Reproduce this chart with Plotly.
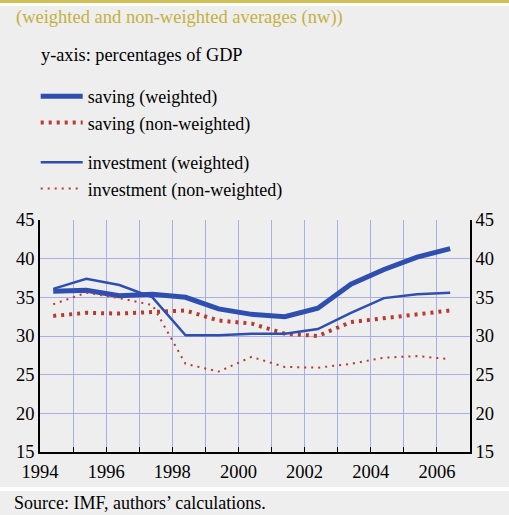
import plotly.graph_objects as go

# annual values, percentages of GDP
years = list(range(1994, 2007))
saving_w = [35.8, 35.9, 35.2, 35.4, 35.0, 33.5, 32.8, 32.5, 33.6, 36.7, 38.6, 40.2, 41.3]
saving_nw = [32.6, 33.0, 32.9, 33.1, 33.3, 32.0, 31.6, 30.3, 30.0, 31.8, 32.3, 32.7, 33.3]
invest_w = [36.1, 37.4, 36.6, 35.0, 30.1, 30.1, 30.3, 30.3, 30.9, 33.0, 34.9, 35.4, 35.6]
invest_nw = [34.1, 35.6, 34.9, 34.0, 26.4, 25.4, 27.3, 26.0, 25.9, 26.4, 27.2, 27.4, 27.0]

tick_years = list(range(1994, 2008))
tick_text = [str(y) if y % 2 == 0 else "" for y in tick_years]

BLUE = "#2f4fae"
RED = "#b73a2e"
GOLD = "#c4b13c"
BAR = "#cfbd55"
BG = "#eeeeee"
GRID = "#a9aee6"
FONT = "Times New Roman, Liberation Serif, serif"

# points sit inside each year
xs = [y + 0.4 for y in years]

fig = go.Figure()
fig.add_trace(go.Scatter(x=xs, y=saving_w, mode="lines", name="saving (weighted)",
                         line=dict(color=BLUE, width=5), legend="legend"))
fig.add_trace(go.Scatter(x=xs, y=saving_nw, mode="lines", name="saving (non-weighted)",
                         line=dict(color=RED, width=4, dash="3px,5px"), legend="legend"))
fig.add_trace(go.Scatter(x=xs, y=invest_w, mode="lines", name="investment (weighted)",
                         line=dict(color=BLUE, width=2.5), legend="legend2"))
fig.add_trace(go.Scatter(x=xs, y=invest_nw, mode="lines", name="investment (non-weighted)",
                         line=dict(color=RED, width=2, dash="2px,5px"), legend="legend2"))
# right-hand axis copy
fig.add_trace(go.Scatter(x=[None], y=[None], yaxis="y2", showlegend=False, hoverinfo="skip"))

legend_style = dict(x=-0.01, xanchor="left", yanchor="top", bgcolor="rgba(0,0,0,0)",
                    itemwidth=42, font=dict(size=18, family=FONT))

fig.update_layout(
    width=509, height=515,
    margin=dict(l=40, r=39, t=220, b=63),
    paper_bgcolor=BG, plot_bgcolor=BG,
    font=dict(family=FONT, size=18, color="black"),
    xaxis=dict(range=[1994, 2007], tickvals=tick_years, ticktext=tick_text,
               showgrid=True, gridcolor=GRID, gridwidth=1,
               showline=True, linecolor="black", linewidth=1.5,
               ticks="inside", ticklen=5, tickcolor="black",
               tickfont=dict(size=18.5), ticklabelstandoff=2, zeroline=False),
    yaxis=dict(range=[15, 45], dtick=5, showgrid=True, gridcolor=GRID,
               showline=True, linecolor="black", linewidth=1.5,
               tickfont=dict(size=18.5), zeroline=False, ticks=""),
    yaxis2=dict(range=[15, 45], dtick=5, overlaying="y", side="right",
                showgrid=False, showline=True, linecolor="black", linewidth=1.5,
                tickfont=dict(size=18.5), zeroline=False),
    showlegend=True,
    legend=dict(legend_style, y=(452 - 78) / 232),
    legend2=dict(legend_style, y=(452 - 144) / 232),
    shapes=[
        dict(type="rect", xref="paper", yref="paper", x0=-0.2, x1=1.2,
             y0=(452 - 3) / 232, y1=(452 + 5) / 232, fillcolor=BAR, line_width=0, layer="below"),
        dict(type="rect", xref="paper", yref="paper", x0=-0.2, x1=1.2,
             y0=(452 - 6) / 232, y1=(452 - 3) / 232, fillcolor="white", line_width=0, layer="below"),
        dict(type="rect", xref="paper", yref="paper", x0=-0.2, x1=1.2,
             y0=(452 - 491) / 232, y1=(452 - 487) / 232, fillcolor="white", line_width=0, layer="below"),
    ],
    annotations=[
        dict(text="(weighted and non-weighted averages (nw))", xref="paper", yref="paper",
             x=(14 - 40) / 430, y=(452 - 17) / 232, xanchor="left", yanchor="middle",
             showarrow=False, font=dict(size=18.5, color=GOLD)),
        dict(text="y-axis: percentages of GDP", xref="paper", yref="paper",
             x=(39 - 40) / 430, y=(452 - 55) / 232, xanchor="left", yanchor="middle",
             showarrow=False, font=dict(size=18.3)),
        dict(text="Source: IMF, authors\u2019 calculations.", xref="paper", yref="paper",
             x=(12 - 40) / 430, y=(452 - 503) / 232, xanchor="left", yanchor="middle",
             showarrow=False, font=dict(size=18)),
    ],
)

# drop the page's default body margin so the figure sits at the window corner
fig.write_html("out.html", config={"displayModeBar": False},
               post_script="document.body.style.margin='0';")
